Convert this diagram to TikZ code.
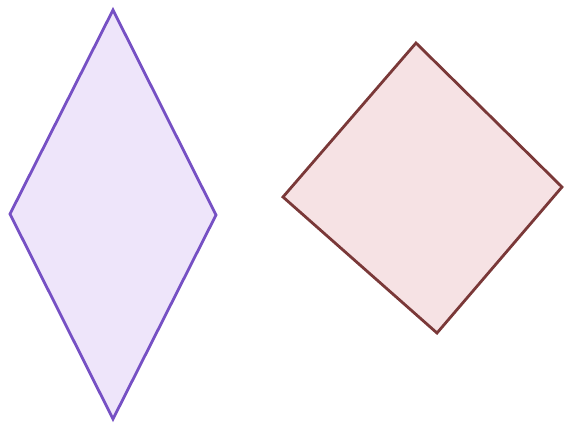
\documentclass[tikz,border=0pt]{standalone}
\begin{document}
\begin{tikzpicture}[x=1pt,y=-1pt,
  rhomb/.style={draw=purpleline,fill=purplefill,line width=2.8pt,line join=miter},
  sq/.style={draw=brownline,fill=brownfill,line width=2.8pt,line join=miter}]
\definecolor{purpleline}{HTML}{7650C4}
\definecolor{purplefill}{HTML}{EEE5FA}
\definecolor{brownline}{HTML}{7A3838}
\definecolor{brownfill}{HTML}{F6E2E4}
\useasboundingbox[fill=white] (0,0) rectangle (566,427);
\coordinate (rt) at (113,10);
\coordinate (rr) at (216,215);
\coordinate (rb) at (113,419);
\coordinate (rl) at (10,214);
\filldraw[rhomb] (rt) -- (rr) -- (rb) -- (rl) -- cycle;
\coordinate (st) at (416,43);
\coordinate (sr) at (562,187);
\coordinate (sb) at (437,333);
\coordinate (sl) at (283,197);
\filldraw[sq] (st) -- (sr) -- (sb) -- (sl) -- cycle;
\end{tikzpicture}
\end{document}
